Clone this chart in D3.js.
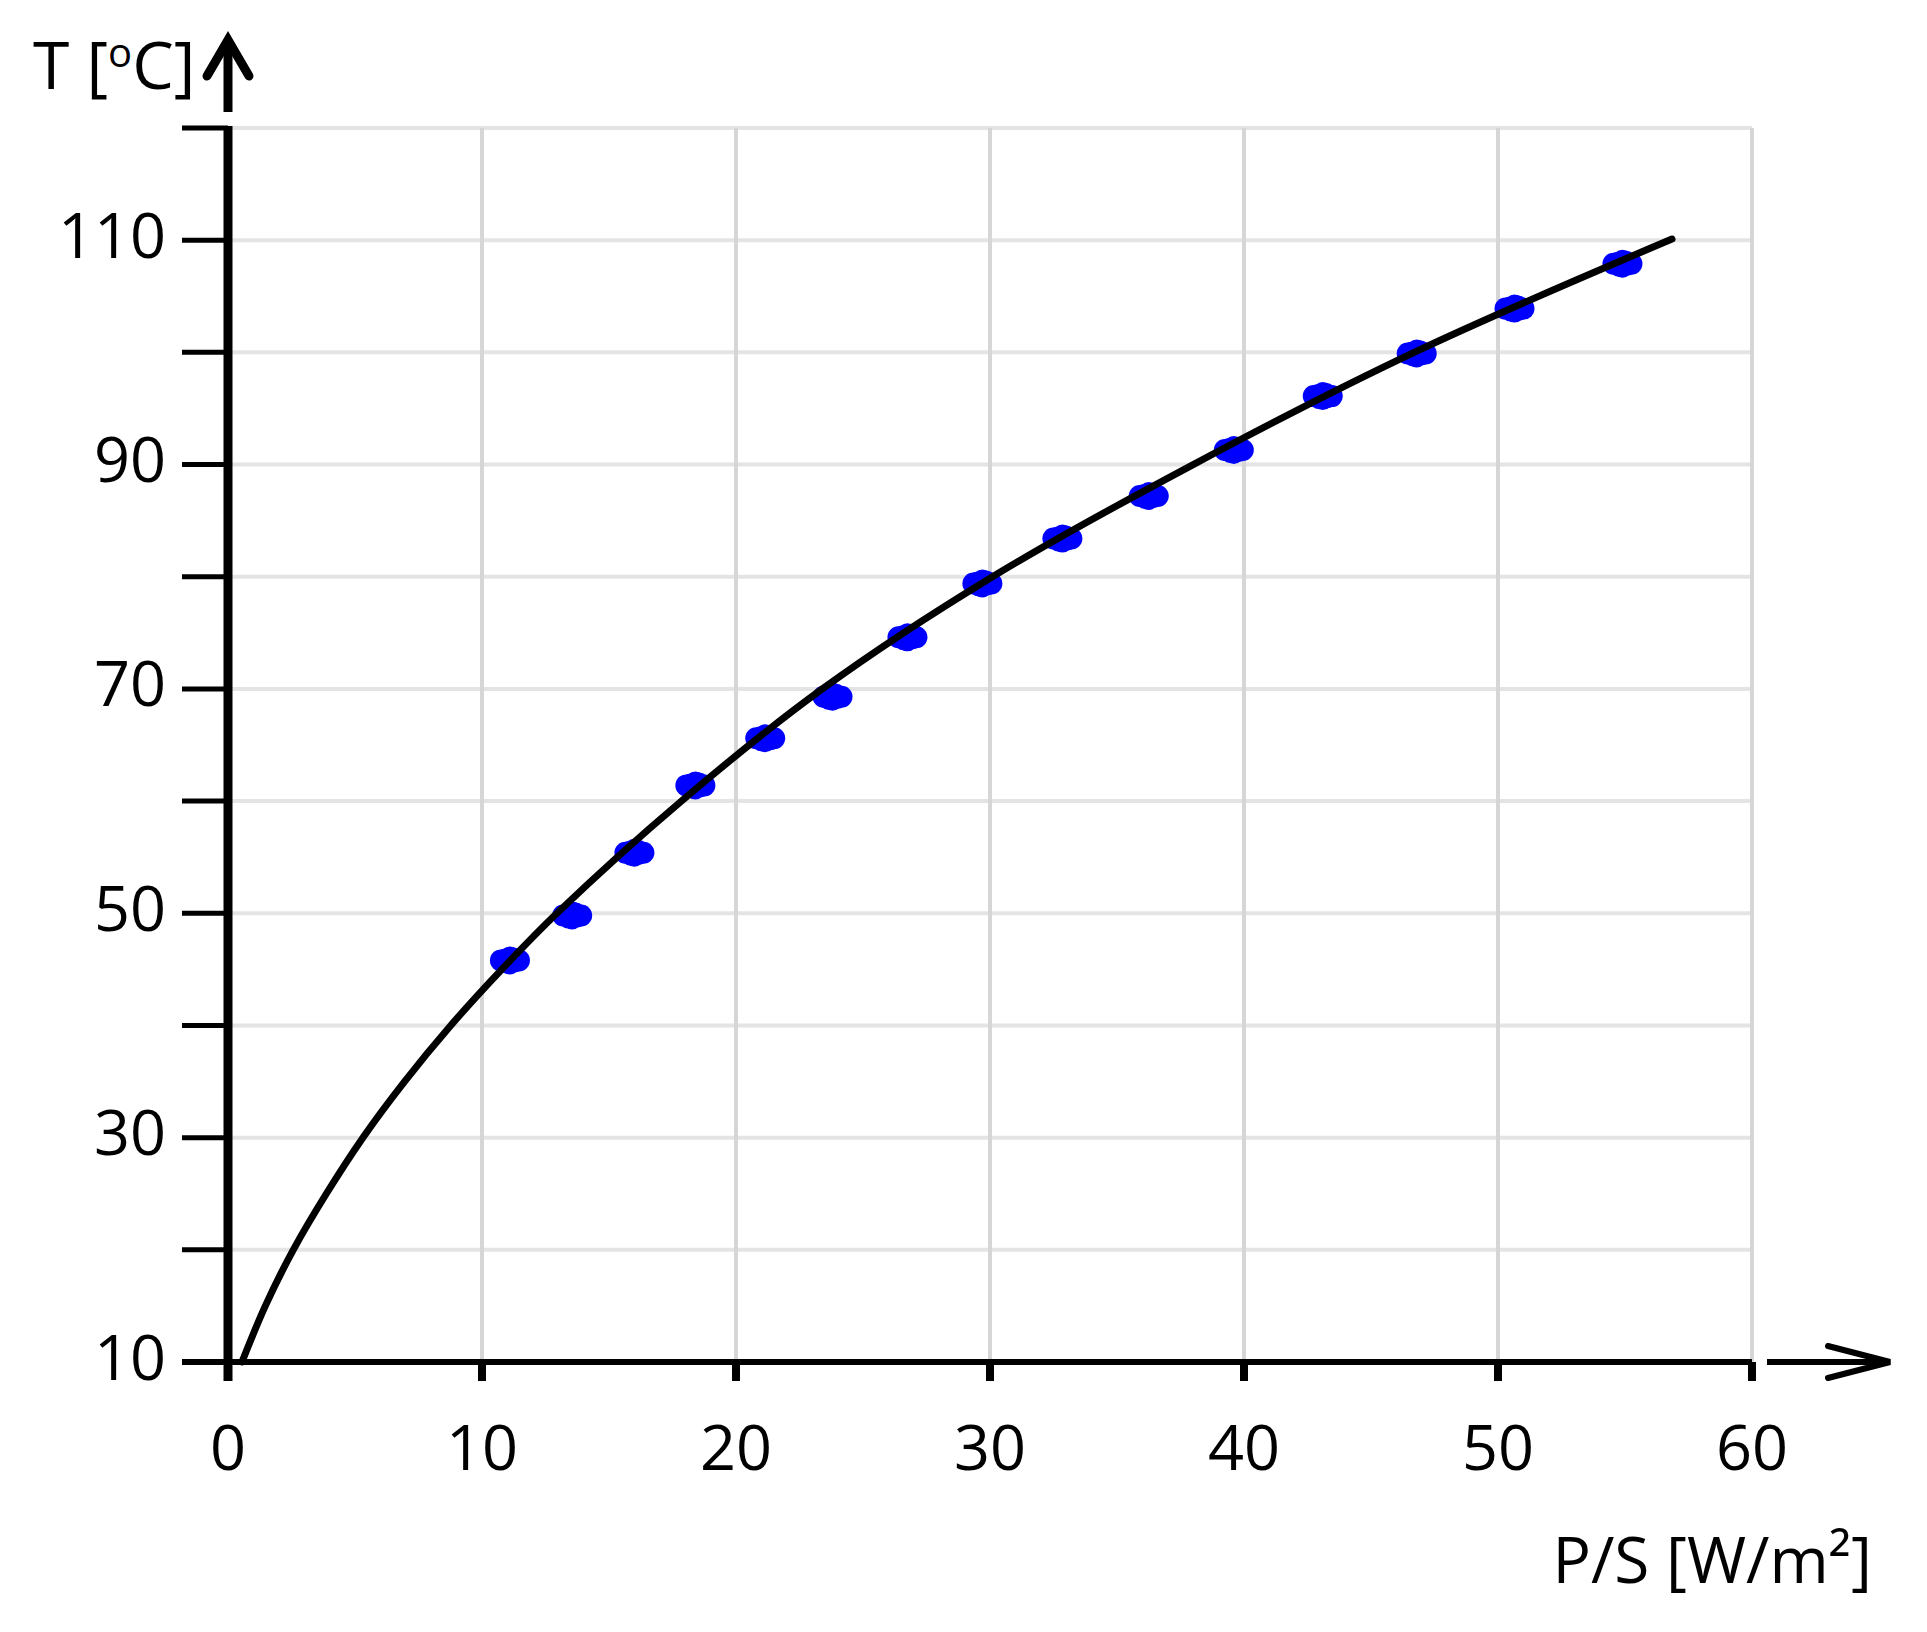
<!DOCTYPE html>
<html>
<head>
<meta charset="utf-8">
<script src="https://cdn.jsdelivr.net/npm/d3@7"></script>
<style>
  html, body { margin: 0; padding: 0; background: #ffffff; }
  svg { display: block; }
  text { font-family: "Open Sans", "DejaVu Sans", sans-serif; fill: #000; }
</style>
</head>
<body>
<svg id="chart" width="1927" height="1632"></svg>
<script>
// ---- data ----
const xTicks = [0, 10, 20, 30, 40, 50, 60];
const yTicks = [10, 20, 30, 40, 50, 60, 70, 80, 90, 100, 110, 120];
const yTickLabels = [10, 30, 50, 70, 90, 110];

// measured points: P/S [W/m2] and T [oC]
const pointX = [11.1, 13.55, 16.0, 18.4, 21.15, 23.8, 26.75, 29.7, 32.85, 36.25, 39.6, 43.1, 46.8, 50.65, 54.9];
const pointT = [45.8, 49.8, 55.4, 61.4, 65.6, 69.3, 74.6, 79.4, 83.4, 87.2, 91.3, 96.1, 99.9, 103.9, 107.9];

// fitted curve, read along its course
const curveX = [0.55, 1.47, 2.57, 3.87, 5.31, 6.95, 8.77, 10.78, 12.95, 17.85, 23.4, 30.1, 38.0, 46.7, 56.85];
const curveT = [10, 15, 20, 25, 30, 35, 40, 45, 50, 60, 70, 80, 90, 100, 110.1];

const xLabel = "P/S [W/m²]";

// ---- layout ----
const svg = d3.select("#chart");
const x = d3.scaleLinear().domain([0, 60]).range([228, 1752]);
const y = d3.scaleLinear().domain([10, 120]).range([1362, 128]);

svg.append("rect").attr("width", 1927).attr("height", 1632).attr("fill", "#fff");

// grid
const grid = svg.append("g");
grid.selectAll("line.h").data(yTicks.filter(d => d > 10)).join("line")
  .attr("x1", x(0)).attr("x2", x(60))
  .attr("y1", d => y(d)).attr("y2", d => y(d))
  .attr("stroke", "#e4e4e4").attr("stroke-width", 4);
grid.selectAll("line.v").data(xTicks.filter(d => d > 0)).join("line")
  .attr("x1", d => x(d)).attr("x2", d => x(d))
  .attr("y1", y(120)).attr("y2", y(10))
  .attr("stroke", "#d6d6d6").attr("stroke-width", 4);

// y axis ticks (left)
const axis = svg.append("g");
axis.selectAll("line.yt").data(yTicks).join("line")
  .attr("x1", 182).attr("x2", x(0))
  .attr("y1", d => y(d)).attr("y2", d => y(d))
  .attr("stroke", "#000").attr("stroke-width", 5);

// x axis ticks (down)
axis.selectAll("line.xt").data(xTicks).join("line")
  .attr("x1", d => x(d)).attr("x2", d => x(d))
  .attr("y1", y(10)).attr("y2", y(10) + 19)
  .attr("stroke", "#000").attr("stroke-width", 8);

// x axis line
axis.append("line")
  .attr("x1", 182).attr("x2", x(60))
  .attr("y1", y(10)).attr("y2", y(10))
  .attr("stroke", "#000").attr("stroke-width", 6);

// y axis line
axis.append("line")
  .attr("x1", x(0)).attr("x2", x(0))
  .attr("y1", y(120) - 2).attr("y2", y(10) + 19)
  .attr("stroke", "#000").attr("stroke-width", 9);

// y arrow
axis.append("line")
  .attr("x1", x(0)).attr("x2", x(0)).attr("y1", 112).attr("y2", 42)
  .attr("stroke", "#000").attr("stroke-width", 9);
axis.append("path")
  .attr("d", `M${x(0) - 21},76 L${x(0)},40 L${x(0) + 21},76`)
  .attr("fill", "none").attr("stroke", "#000").attr("stroke-width", 9)
  .attr("stroke-linejoin", "miter").attr("stroke-linecap", "round");

// x arrow
axis.append("line")
  .attr("x1", 1767).attr("x2", 1888).attr("y1", y(10)).attr("y2", y(10))
  .attr("stroke", "#000").attr("stroke-width", 6);
axis.append("path")
  .attr("d", `M1828,1346 L1890,${y(10)} L1828,1378`)
  .attr("fill", "none").attr("stroke", "#000").attr("stroke-width", 6)
  .attr("stroke-linejoin", "miter").attr("stroke-linecap", "round");

// tick labels
svg.append("g").selectAll("text").data(yTickLabels).join("text")
  .attr("x", 166).attr("y", d => y(d) - 7)
  .attr("text-anchor", "end").attr("dominant-baseline", "central")
  .attr("font-size", 63).text(d => d);
svg.append("g").selectAll("text").data(xTicks).join("text")
  .attr("x", d => x(d)).attr("y", 1445)
  .attr("text-anchor", "middle").attr("dominant-baseline", "central")
  .attr("font-size", 63).text(d => d);

// axis titles
const tl = svg.append("text").attr("x", 33).attr("y", 89).attr("font-size", 66);
tl.append("tspan").text("T [");
tl.append("tspan").attr("font-size", 40).attr("dy", -22).text("o");
tl.append("tspan").attr("dy", 22).text("C]");

svg.append("text").attr("x", 1872).attr("y", 1583)
  .attr("text-anchor", "end").attr("font-size", 64).text(xLabel);

// points (blob markers)
const pts = pointX.map((v, i) => ({ x: v, t: pointT[i] }));
const blob = [[-9, 0, 11], [9, 0, 11], [0, -4, 10], [0, 4, 10], [-5, -3, 9], [5, 3, 9], [-4, 4, 9], [4, -4, 9]];
const pg = svg.append("g").attr("fill", "#0000ff");
pts.forEach(p => {
  const g = pg.append("g").attr("transform", `translate(${x(p.x)},${y(p.t)})`);
  g.selectAll("circle").data(blob).join("circle")
    .attr("cx", d => d[0]).attr("cy", d => d[1]).attr("r", d => d[2]);
});

// curve
const cdata = curveX.map((v, i) => [v, curveT[i]]);
svg.append("path")
  .datum(cdata)
  .attr("d", d3.line().x(d => x(d[0])).y(d => y(d[1])).curve(d3.curveCatmullRom.alpha(0.5)))
  .attr("fill", "none").attr("stroke", "#000").attr("stroke-width", 7)
  .attr("stroke-linecap", "round");
</script>
</body>
</html>
